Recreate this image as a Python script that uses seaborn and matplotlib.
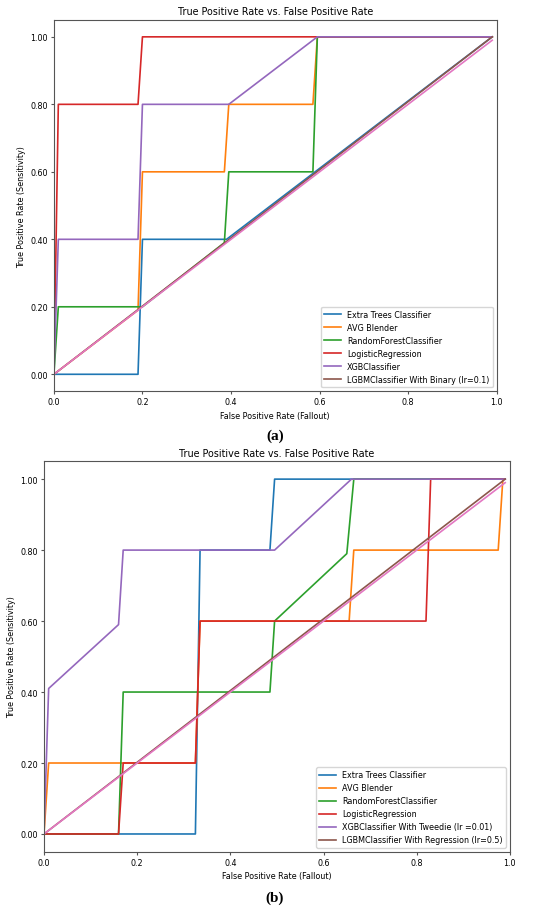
import pandas as pd
import matplotlib
matplotlib.use("Agg")
import matplotlib.pyplot as plt
import seaborn as sns

# panel (a) curves
names_a = ["Extra Trees Classifier", "AVG Blender", "RandomForestClassifier",
           "LogisticRegression", "XGBClassifier", "LGBMClassifier With Binary (lr=0.1)"]
et_a_x = [0, 0.19, 0.2, 0.39, 0.99]
et_a_y = [0, 0, 0.4, 0.4, 1.0]
avg_a_x = [0, 0.19, 0.2, 0.385, 0.395, 0.585, 0.595, 0.99]
avg_a_y = [0, 0.19, 0.6, 0.6, 0.8, 0.8, 1.0, 1.0]
rf_a_x = [0, 0.01, 0.19, 0.2, 0.385, 0.395, 0.585, 0.595, 0.99]
rf_a_y = [0, 0.2, 0.2, 0.2, 0.39, 0.6, 0.6, 1.0, 1.0]
lr_a_x = [0, 0.01, 0.19, 0.2, 0.99]
lr_a_y = [0, 0.8, 0.8, 1.0, 1.0]
xgb_a_x = [0, 0.01, 0.19, 0.2, 0.395, 0.595, 0.99]
xgb_a_y = [0, 0.4, 0.4, 0.8, 0.8, 1.0, 1.0]
lgbm_a_x = [0, 0.99]
lgbm_a_y = [0, 1.0]

# panel (b) curves
names_b = ["Extra Trees Classifier", "AVG Blender", "RandomForestClassifier",
           "LogisticRegression", "XGBClassifier With Tweedie (lr =0.01)",
           "LGBMClassifier With Regression (lr=0.5)"]
et_b_x = [0, 0.325, 0.335, 0.485, 0.495, 0.99]
et_b_y = [0, 0, 0.8, 0.8, 1.0, 1.0]
avg_b_x = [0, 0.01, 0.325, 0.335, 0.655, 0.665, 0.975, 0.985]
avg_b_y = [0, 0.2, 0.2, 0.6, 0.6, 0.8, 0.8, 1.0]
rf_b_x = [0, 0.16, 0.17, 0.485, 0.495, 0.65, 0.665, 0.99]
rf_b_y = [0, 0, 0.4, 0.4, 0.6, 0.79, 1.0, 1.0]
lr_b_x = [0, 0.16, 0.17, 0.325, 0.335, 0.82, 0.83, 0.99]
lr_b_y = [0, 0, 0.2, 0.2, 0.6, 0.6, 1.0, 1.0]
xgb_b_x = [0, 0.01, 0.16, 0.17, 0.495, 0.66, 0.99]
xgb_b_y = [0, 0.41, 0.59, 0.8, 0.8, 1.0, 1.0]
lgbm_b_x = [0, 0.99]
lgbm_b_y = [0, 1.0]

# chance line
diag_x = [0, 0.99]
diag_y = [0, 0.99]


def to_long(names, xs, ys):
    frames = []
    for n, x, y in zip(names, xs, ys):
        frames.append(pd.DataFrame({"fpr": x, "tpr": y, "model": n}))
    return pd.concat(frames, ignore_index=True)


df_a = to_long(names_a, [et_a_x, avg_a_x, rf_a_x, lr_a_x, xgb_a_x, lgbm_a_x],
               [et_a_y, avg_a_y, rf_a_y, lr_a_y, xgb_a_y, lgbm_a_y])
df_b = to_long(names_b, [et_b_x, avg_b_x, rf_b_x, lr_b_x, xgb_b_x, lgbm_b_x],
               [et_b_y, avg_b_y, rf_b_y, lr_b_y, xgb_b_y, lgbm_b_y])
diag = pd.DataFrame({"fpr": diag_x, "tpr": diag_y})

pal = sns.color_palette("tab10")

fig = plt.figure(figsize=(5.5, 9.12), dpi=100)
ax1 = fig.add_axes([0.098, 0.570, 0.805, 0.407])
ax2 = fig.add_axes([0.080, 0.065, 0.847, 0.428])


def draw(ax, df, names):
    sns.lineplot(data=df, x="fpr", y="tpr", hue="model", hue_order=names,
                 palette=pal[:6], sort=False, estimator=None, lw=1.2, ax=ax)
    sns.lineplot(data=diag, x="fpr", y="tpr", color=pal[6], sort=False,
                 estimator=None, lw=1.2, legend=False, ax=ax)
    ax.set_xlim(0, 1.0)
    ax.set_ylim(-0.05, 1.05)
    ax.set_yticks([0, 0.2, 0.4, 0.6, 0.8, 1.0])
    ax.set_yticklabels(["0.00", "0.20", "0.40", "0.60", "0.80", "1.00"])
    ax.set_xticks([0, 0.2, 0.4, 0.6, 0.8, 1.0])
    ax.set_xticklabels(["0.0", "0.2", "0.4", "0.6", "0.8", "1.0"])
    ax.tick_params(labelsize=5.8, length=2.5, pad=2, color="#555555")
    for s in ax.spines.values():
        s.set_color("#555555")
    ax.set_title("True Positive Rate vs. False Positive Rate", fontsize=6.9, pad=4)
    ax.set_xlabel("False Positive Rate (Fallout)", fontsize=5.8, labelpad=3)
    ax.set_ylabel("True Positive Rate (Sensitivity)", fontsize=5.8, labelpad=3)
    ax.legend(loc="lower right", fontsize=5.8, handlelength=2)


draw(ax1, df_a, names_a)
draw(ax2, df_b, names_b)

fig.text(0.5, 0.522, "(a)", ha="center", va="center", fontsize=11,
         family="Liberation Serif", fontweight="bold")
fig.text(0.5, 0.015, "(b)", ha="center", va="center", fontsize=11,
         family="Liberation Serif", fontweight="bold")

fig.savefig("out.png", dpi=100)
